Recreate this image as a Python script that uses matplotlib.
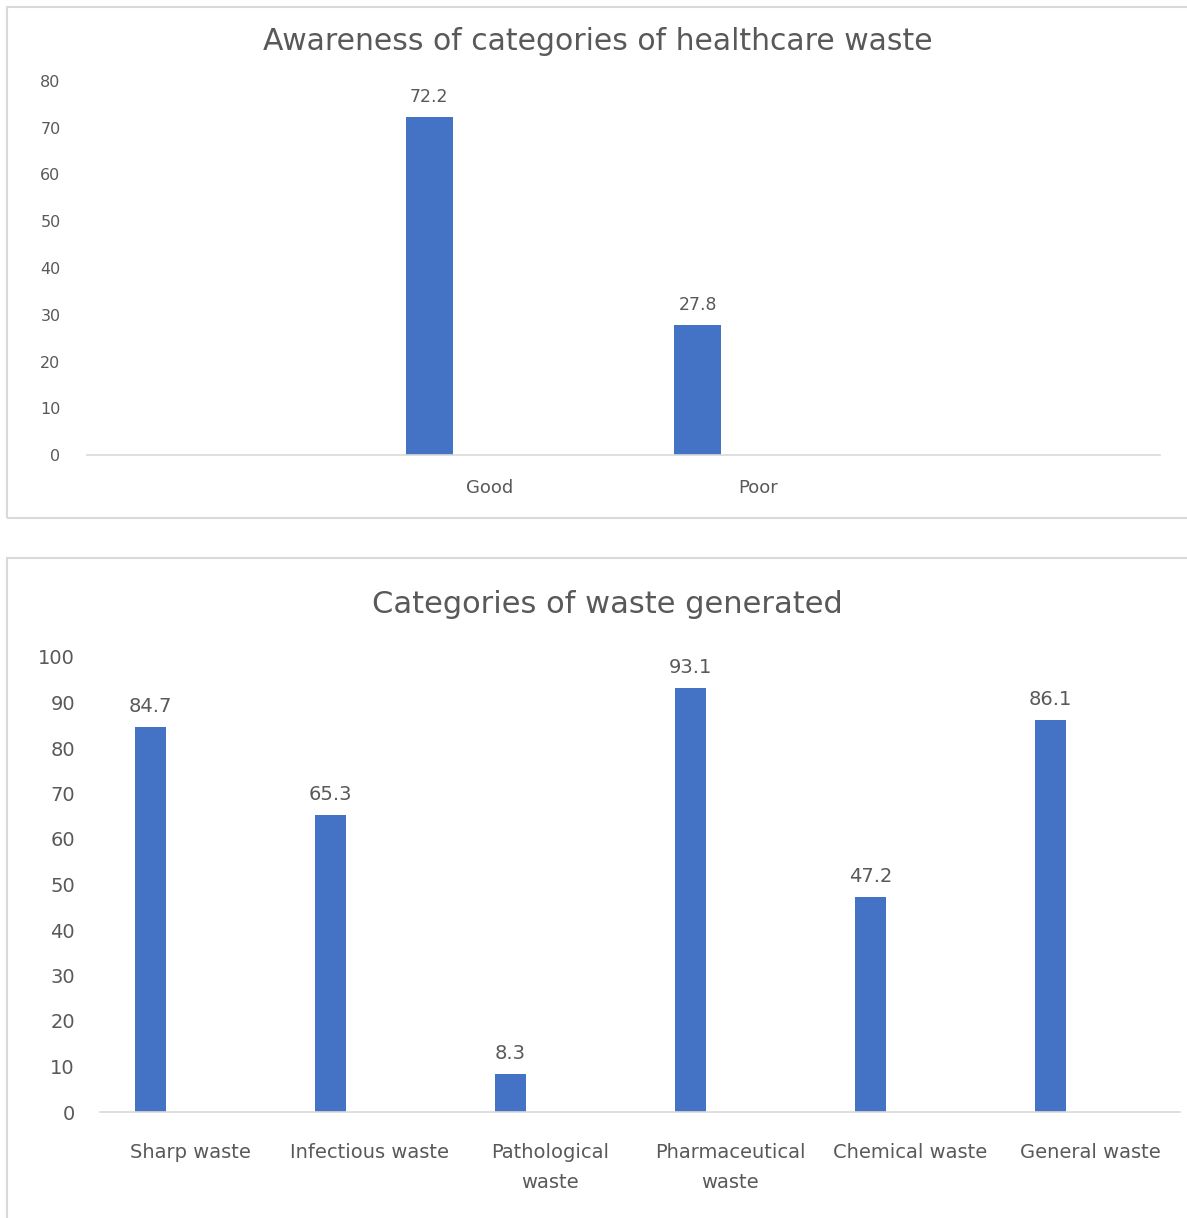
import numpy as np
import matplotlib
matplotlib.use("Agg")
import matplotlib.pyplot as plt
from matplotlib.patches import Rectangle

# ---- data ----
top_title = "Awareness of categories of healthcare waste"
top_categories = ["Good", "Poor"]
top_values = [72.2, 27.8]
top_yticks = [0, 10, 20, 30, 40, 50, 60, 70, 80]

bot_title = "Categories of waste generated"
bot_categories = ["Sharp waste", "Infectious waste", "Pathological\nwaste",
                  "Pharmaceutical\nwaste", "Chemical waste", "General waste"]
bot_values = [84.7, 65.3, 8.3, 93.1, 47.2, 86.1]
bot_yticks = [0, 10, 20, 30, 40, 50, 60, 70, 80, 90, 100]

BAR = "#4472C4"
TXT = "#595959"
AXL = "#D9D9D9"
W, H = 1187, 1218

fig = plt.figure(figsize=(W / 100, H / 100), dpi=100)


def box(x0, y0, x1, y1):
    return [x0 / W, 1 - y1 / H, (x1 - x0) / W, (y1 - y0) / H]


# panel borders
for (x0, y0, x1, y1) in [(7, 7, 1190, 518), (7, 558, 1190, 1222)]:
    fig.patches.append(Rectangle((x0 / W, 1 - y1 / H), (x1 - x0) / W, (y1 - y0) / H,
                                 transform=fig.transFigure, fill=False,
                                 edgecolor=AXL, linewidth=1.5))


def style(ax, yticks, ylim, xpad, ypad, xsize, ysize):
    for s in ["top", "right", "left"]:
        ax.spines[s].set_visible(False)
    ax.spines["bottom"].set_color(AXL)
    ax.spines["bottom"].set_linewidth(1.2)
    ax.set_ylim(0, ylim)
    ax.set_yticks(yticks)
    ax.tick_params(axis="both", length=0, colors=TXT)
    ax.tick_params(axis="x", pad=xpad, labelsize=xsize)
    ax.tick_params(axis="y", pad=ypad, labelsize=ysize)


# ---- top chart ----
ax1 = fig.add_axes(box(87, 81, 1160, 455))
nslots = 4
pos1 = np.arange(len(top_categories)) + 1
ax1.set_xlim(-0.5, nslots - 0.5)
b1 = ax1.bar(pos1 - 0.224, top_values, width=0.175, color=BAR)
ax1.set_xticks(pos1)
ax1.set_xticklabels(top_categories)
style(ax1, top_yticks, 80, 17, 19, 13, 11.5)
for rect, v in zip(b1, top_values):
    ax1.annotate(f"{v}", (rect.get_x() + rect.get_width() / 2, v),
                 xytext=(0, 8), textcoords="offset points", ha="center", va="bottom",
                 fontsize=12.5, color=TXT)
fig.text(598 / W, 1 - 41 / H, top_title, ha="center", va="center",
         fontsize=21.5, color=TXT)

# ---- bottom chart ----
ax2 = fig.add_axes(box(100, 657, 1180, 1112))
pos2 = np.arange(len(bot_categories))
ax2.set_xlim(-0.5, len(bot_categories) - 0.5)
b2 = ax2.bar(pos2 - 0.22, bot_values, width=0.172, color=BAR)
ax2.set_xticks(pos2)
ax2.set_xticklabels(bot_categories, linespacing=1.75)
style(ax2, bot_yticks, 100, 22, 18, 14, 14)
for rect, v in zip(b2, bot_values):
    ax2.annotate(f"{v}", (rect.get_x() + rect.get_width() / 2, v),
                 xytext=(0, 8), textcoords="offset points", ha="center", va="bottom",
                 fontsize=14, color=TXT)
fig.text(607 / W, 1 - 604 / H, bot_title, ha="center", va="center",
         fontsize=22, color=TXT)

fig.savefig("out.png", dpi=100, facecolor="white")
